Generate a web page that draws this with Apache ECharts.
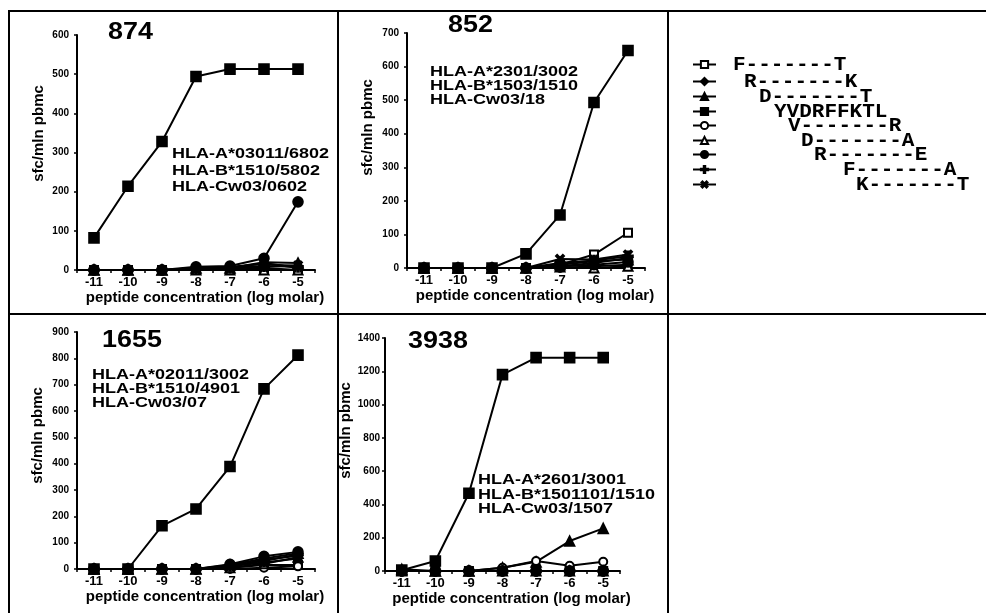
<!DOCTYPE html>
<html>
<head>
<meta charset="utf-8">
<title>ELISpot titration</title>
<script src="https://cdn.jsdelivr.net/npm/echarts@6/dist/echarts.min.js"></script>
<style>
  html, body { margin: 0; padding: 0; background: #fff; }
  #chart { width: 986px; height: 613px; }
</style>
</head>
<body>
<div id="chart"></div>
<script>
// Peptide concentrations (log molar), x categories
const concentrations = ['-11', '-10', '-9', '-8', '-7', '-6', '-5'];

// Peptides tested, in legend order
const peptides = ['F-------T', 'R-------K', 'D-------T', 'YVDRFFKTL', 'V-------R',
                  'D-------A', 'R-------E', 'F-------A', 'K-------T'];

// Donor IDs and HLA types
const donors = ['874', '852', '1655', '3938'];
const hla874 = ['HLA-A*03011/6802', 'HLA-B*1510/5802', 'HLA-Cw03/0602'];
const hla852 = ['HLA-A*2301/3002', 'HLA-B*1503/1510', 'HLA-Cw03/18'];
const hla1655 = ['HLA-A*02011/3002', 'HLA-B*1510/4901', 'HLA-Cw03/07'];
const hla3938 = ['HLA-A*2601/3001', 'HLA-B*1501101/1510', 'HLA-Cw03/1507'];

// y-axis tops and steps (sfc/mln pbmc)
const yMax = [600, 700, 900, 1400];
const yStep = [100, 100, 100, 200];

// sfc/mln pbmc per peptide (rows follow `peptides`)
const values874 = [
  [0, 0, 0, 0, 0, 5, 0],
  [0, 0, 0, 5, 8, 15, 10],
  [0, 0, 0, 5, 5, 20, 18],
  [82, 214, 328, 494, 513, 513, 513],
  [0, 0, 0, 0, 5, 18, 5],
  [0, 0, 0, 0, 0, 0, 0],
  [0, 0, 0, 8, 10, 30, 174],
  [0, 0, 0, 3, 5, 10, 8],
  [0, 0, 0, 2, 3, 8, 12]
];
const values852 = [
  [0, 0, 0, 0, 10, 40, 105],
  [0, 0, 0, 0, 5, 15, 30],
  [0, 0, 0, 0, 10, 20, 25],
  [0, 0, 0, 42, 158, 493, 648],
  [0, 0, 0, 0, 0, 5, 10],
  [0, 0, 0, 0, 3, 0, 5],
  [0, 0, 0, 0, 5, 10, 18],
  [0, 0, 0, 0, 15, 22, 35],
  [0, 0, 0, 0, 27, 25, 40]
];
const values1655 = [
  [0, 0, 0, 0, 5, 15, 15],
  [0, 0, 0, 0, 10, 35, 50],
  [0, 0, 0, 0, 15, 40, 60],
  [0, 0, 164, 228, 389, 684, 812],
  [0, 0, 0, 0, 0, 5, 10],
  [0, 0, 0, 0, 5, 20, 45],
  [0, 0, 0, 0, 18, 48, 65],
  [0, 0, 0, 0, 12, 30, 55],
  [0, 0, 0, 0, 10, 25, 40]
];
const values3938 = [
  [0, 0, 0, 0, 0, 0, 0],
  [0, 0, 0, 0, 0, 0, 0],
  [10, 0, 0, 20, 55, 180, 256],
  [5, 60, 467, 1180, 1282, 1282, 1282],
  [0, 0, 0, 20, 60, 32, 56],
  [0, 0, 0, 0, 0, 0, 0],
  [0, 0, 0, 0, 0, 0, 0],
  [0, 0, 0, 0, 0, 0, 0],
  [0, 0, 0, 0, 0, 0, 0]
];
const panelValues = [values874, values852, values1655, values3938];
const panelHla = [hla874, hla852, hla1655, hla3938];

// Marker shapes per peptide
const PLUS = 'path://M4,0H6V4H10V6H6V10H4V6H0V4H4Z';
const markers = [
  { symbol: 'emptyRect', size: 8, rotate: 0 },
  { symbol: 'diamond', size: 9, rotate: 0 },
  { symbol: 'triangle', size: 10, rotate: 0 },
  { symbol: 'rect', size: 10, rotate: 0 },
  { symbol: 'emptyCircle', size: 8, rotate: 0 },
  { symbol: 'emptyTriangle', size: 9, rotate: 0 },
  { symbol: 'circle', size: 10, rotate: 0 },
  { symbol: PLUS, size: 10, rotate: 0 },
  { symbol: PLUS, size: 10, rotate: 45 }
];

// Layout of the four plotting areas
const grids = [
  { left: 77, top: 35, width: 238, height: 235 },
  { left: 407, top: 33, width: 238, height: 235 },
  { left: 77, top: 332, width: 238, height: 237 },
  { left: 385, top: 338, width: 235, height: 233 }
];
const yNameGap = [31, 32, 32, 27];
const yNamePad = [38, 46, 30, 48];
const yLabelMargin = [8, 8, 8, 5];
// donor number: x, centre y;  HLA block: x, first-line centre y, line step
const titlePos = [[108, 33], [448, 26], [102, 341], [408, 342]];
const hlaPos = [[172, 154, 16.5], [430, 72, 14], [92, 375, 13.8], [478, 480, 14.5]];

// Legend rows: vertical centre and text offset
const legendRowY = [63, 80, 95, 110, 124, 139, 153, 168, 183];
const legendTextX = [732, 743, 758, 773, 787, 800, 813, 842, 855];

const FONT = 'Arial, "Liberation Sans", Helvetica, sans-serif';
const MONO = '"Courier New", "Liberation Mono", monospace';

const chart = echarts.init(document.getElementById('chart'), null, { renderer: 'canvas' });

const xAxes = grids.map((g, i) => ({
  type: 'category',
  gridIndex: i,
  data: concentrations,
  boundaryGap: true,
  name: 'peptide concentration (log molar)',
  nameLocation: 'middle',
  nameGap: 19,
  nameTextStyle: { fontFamily: FONT, fontWeight: 'bold', fontSize: 15, color: '#000', padding: [0, 0, 0, 18] },
  axisLine: { lineStyle: { color: '#000', width: 2 } },
  axisTick: { show: true, length: 3, lineStyle: { color: '#000', width: 1.5 } },
  axisLabel: { fontFamily: FONT, fontWeight: 'bold', fontSize: 13, color: '#000', margin: 6 },
  splitLine: { show: false }
}));

const yAxes = grids.map((g, i) => ({
  type: 'value',
  gridIndex: i,
  min: 0,
  max: yMax[i],
  interval: yStep[i],
  name: 'sfc/mln pbmc',
  nameLocation: 'middle',
  nameGap: yNameGap[i],
  nameTextStyle: { fontFamily: FONT, fontWeight: 'bold', fontSize: 15, color: '#000', padding: [0, 0, 0, yNamePad[i]] },
  axisLine: { show: true, lineStyle: { color: '#000', width: 2 } },
  axisTick: { show: true, length: 3, lineStyle: { color: '#000', width: 1.5 } },
  axisLabel: {
    fontFamily: FONT, fontWeight: 'bold', fontSize: 10, color: '#000', margin: yLabelMargin[i],
    formatter: v => String(v)
  },
  splitLine: { show: false }
}));

const series = [];
panelValues.forEach((rows, p) => {
  rows.forEach((vals, k) => {
    const m = markers[k];
    series.push({
      type: 'line',
      name: peptides[k],
      xAxisIndex: p,
      yAxisIndex: p,
      data: vals,
      symbol: m.symbol,
      symbolSize: m.size,
      symbolRotate: m.rotate,
      showAllSymbol: true,
      z: k === 3 ? 4 : 3,
      lineStyle: { color: '#000', width: 2 },
      itemStyle: { color: '#000', borderColor: '#000', borderWidth: 1.6 },
      emphasis: { disabled: true }
    });
  });
});

const legends = peptides.map((name, k) => ({
  data: [name],
  orient: 'vertical',
  left: 692,
  top: legendRowY[k] - 9,
  padding: 0,
  itemWidth: 23,
  itemHeight: 9,
  itemGap: 0,
  selectedMode: false,
  lineStyle: { width: 2 },
  textStyle: {
    fontFamily: MONO, fontWeight: 'bold', fontSize: 21, lineHeight: 16, color: '#000',
    padding: [0, 0, 0, legendTextX[k] - 720]
  }
}));

// Panel frame lines
const B = { stroke: '#000', lineWidth: 2 };
const graphics = [
  { type: 'line', shape: { x1: 8, y1: 11, x2: 986, y2: 11 }, style: B },
  { type: 'line', shape: { x1: 8, y1: 314, x2: 986, y2: 314 }, style: B },
  { type: 'line', shape: { x1: 9, y1: 10, x2: 9, y2: 613 }, style: B },
  { type: 'line', shape: { x1: 338, y1: 10, x2: 338, y2: 613 }, style: B },
  { type: 'line', shape: { x1: 668, y1: 10, x2: 668, y2: 613 }, style: B }
];

// Donor numbers and HLA types, drawn with a slight horizontal stretch
donors.forEach((d, i) => {
  graphics.push({
    type: 'text',
    x: titlePos[i][0],
    y: titlePos[i][1],
    scaleX: 1.17,
    style: {
      text: d, fill: '#000',
      font: 'bold 23px ' + FONT,
      verticalAlign: 'middle', align: 'left'
    }
  });
  const step = hlaPos[i][2];
  graphics.push({
    type: 'text',
    x: hlaPos[i][0],
    y: hlaPos[i][1] - step / 2,
    scaleX: 1.2,
    style: {
      text: panelHla[i].join('\n'), fill: '#000',
      font: 'bold 15px ' + FONT,
      lineHeight: step,
      verticalAlign: 'top', align: 'left'
    }
  });
});

chart.setOption({
  animation: false,
  backgroundColor: '#fff',
  legend: legends,
  grid: grids.map(g => Object.assign({ containLabel: false }, g)),
  xAxis: xAxes,
  yAxis: yAxes,
  series: series,
  graphic: graphics
});
</script>
</body>
</html>
